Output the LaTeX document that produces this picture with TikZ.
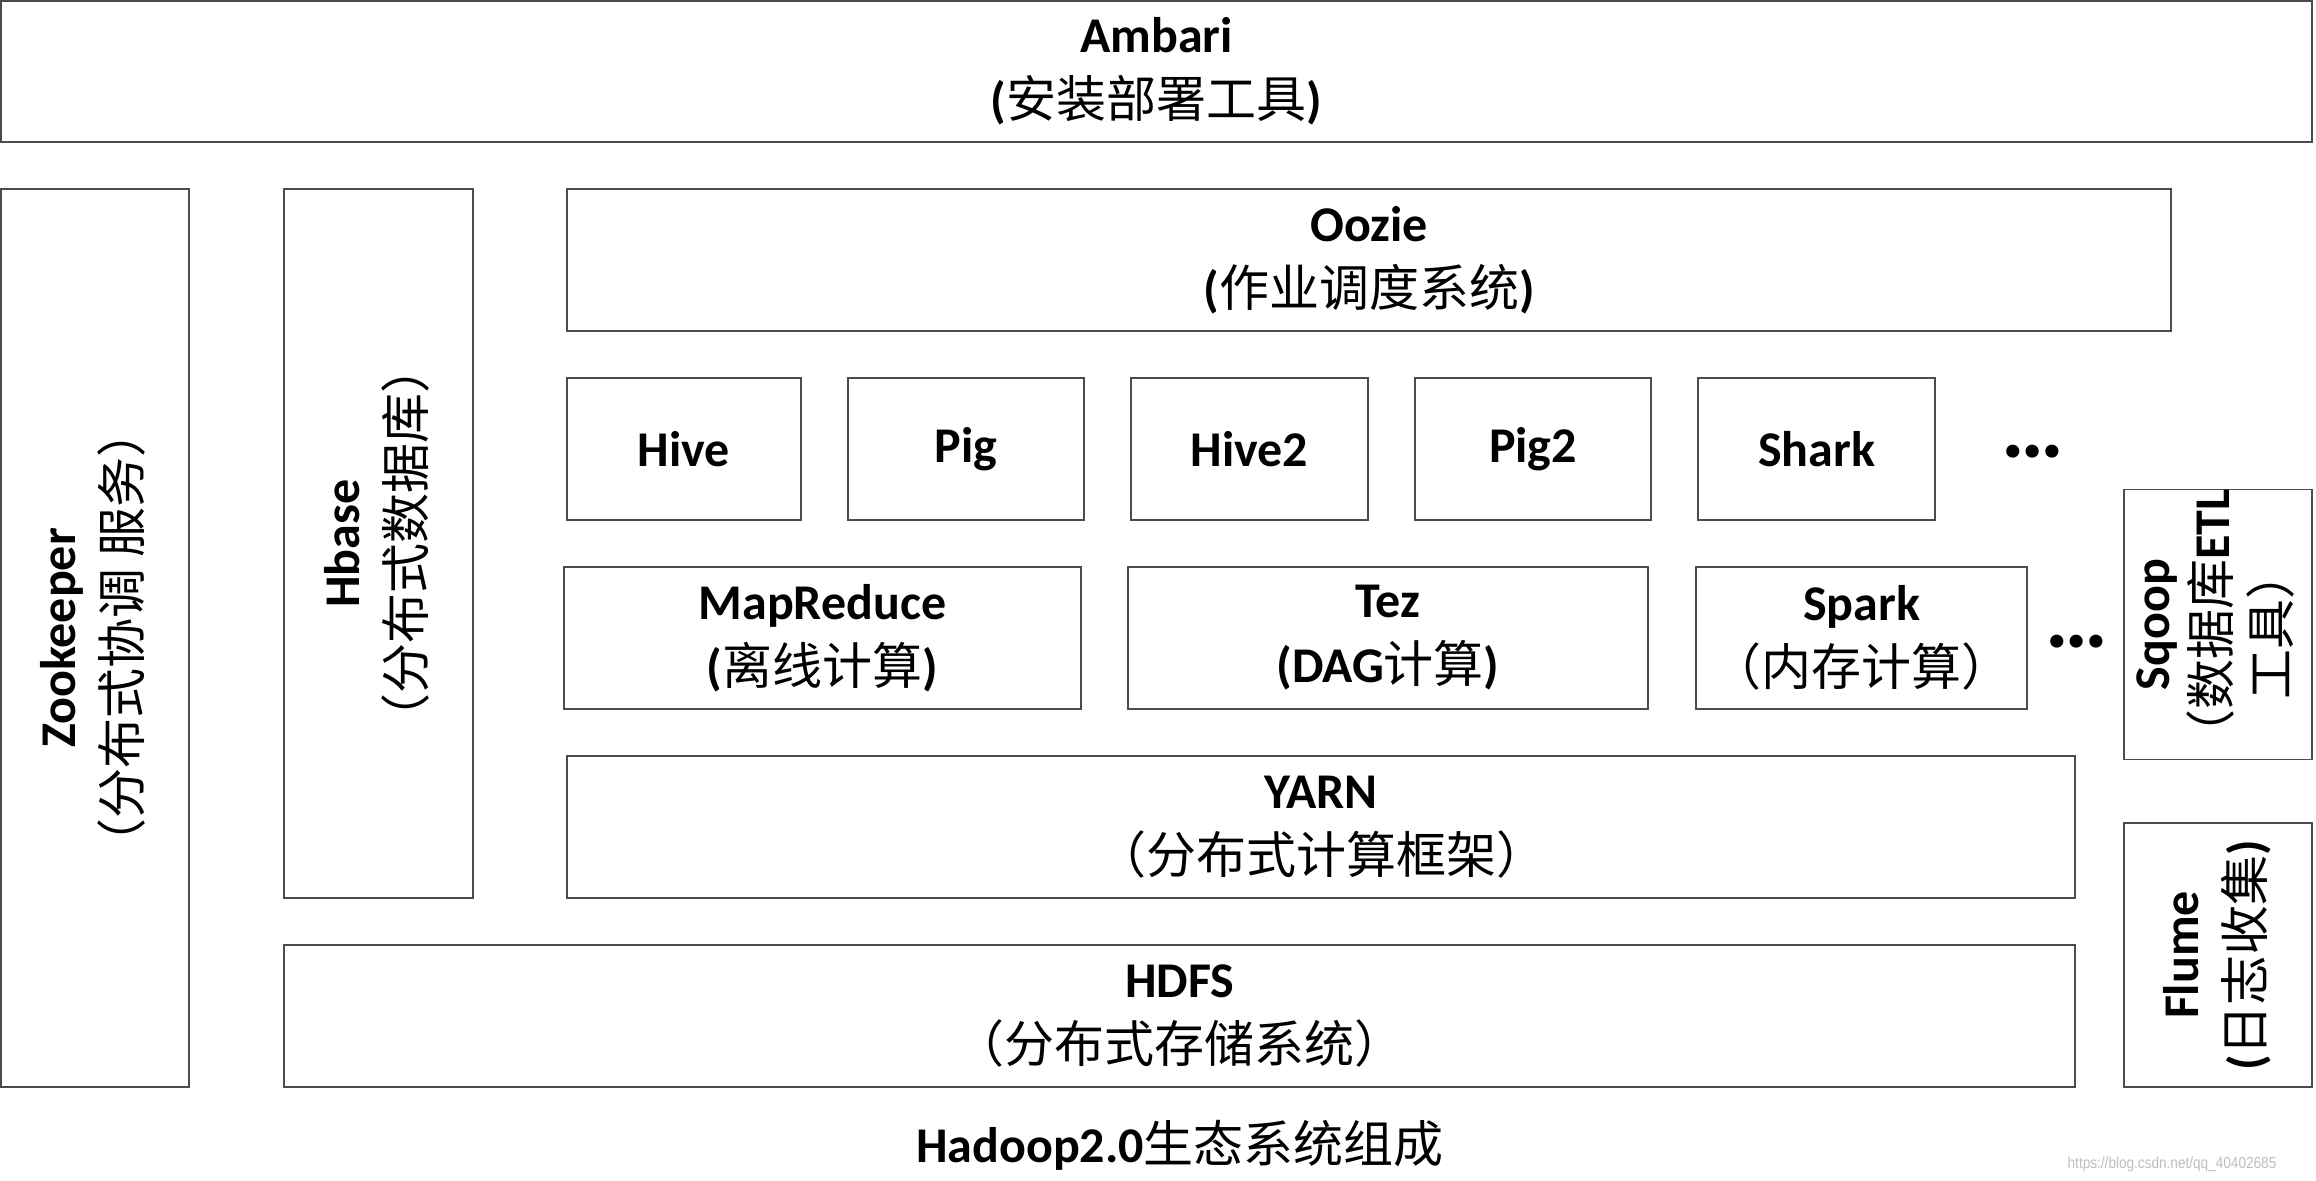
\documentclass[tikz,border=0pt]{standalone}
\usepackage{fontspec}
\setmainfont{Carlito}
\newfontfamily\cjk{Noto Sans CJK SC}
\newfontfamily\wmfont{Liberation Sans}
\newcommand\zh[1]{{\cjk\mdseries #1}}
\tikzset{
  box/.style={draw=black!70, line width=0.6pt, inner sep=0pt, align=center,
    font=\fontsize{25}{32.5}\selectfont\bfseries},
  dotstext/.style={inner sep=0pt, font=\fontsize{44}{44}\selectfont\bfseries},
  plain/.style={inner sep=0pt, align=center, font=\fontsize{25}{32.5}\selectfont\bfseries}
}
\begin{document}
\begin{tikzpicture}[x=0.5pt,y=-0.5pt]
\useasboundingbox (0,0) rectangle (2316,1180);
\fill[white] (0,0) rectangle (2316,1180);
\node[box, minimum width=1155.5pt, minimum height=70.5pt] (ambari) at (1156.5,71.5) {Ambari\\(\zh{安装部署工具})};
\node[box, minimum width=94pt, minimum height=449pt] (zoo) at (95,638) {\rotatebox{90}{\begin{tabular}{@{}c@{}}Zookeeper\\\zh{（分布式协调 服务）}\end{tabular}}};
\node[box, minimum width=94.5pt, minimum height=354.5pt] (hbase) at (378.5,543.5) {\rotatebox{90}{\begin{tabular}{@{}c@{}}Hbase\\\zh{（分布式数据库）}\end{tabular}}};
\node[box, minimum width=895.5pt, minimum height=71pt] (hdfs) at (1179.5,1016) {HDFS\\\zh{（分布式存储系统）}};
\node[box, minimum width=802pt, minimum height=71pt] (oozie) at (1369,260) {Oozie\\(\zh{作业调度系统})};
\node[box, minimum width=117pt, minimum height=71pt] (hive) at (684,449) {Hive};
\node[box, minimum width=118pt, minimum height=71pt] (pig) at (966,449) {Pig};
\node[box, minimum width=118.5pt, minimum height=71pt] (hive2) at (1249.5,449) {Hive2};
\node[box, minimum width=118pt, minimum height=71pt] (pig2) at (1533,449) {Pig2};
\node[box, minimum width=118.5pt, minimum height=71pt] (shark) at (1816.5,449) {Shark};
\node[dotstext] (dots1) at (2033,452) {…};
\node[box, minimum width=258.5pt, minimum height=71pt] (mr) at (822.5,638) {MapReduce\\(\zh{离线计算})};
\node[box, minimum width=260pt, minimum height=71pt] (tez) at (1388,638) {Tez\\(DAG\zh{计算})};
\node[box, minimum width=165.5pt, minimum height=71pt] (spark) at (1861.5,638) {Spark\\\zh{（内存计算）}};
\node[dotstext] (dots2) at (2077,642) {…};
\node[box, minimum width=754pt, minimum height=71pt] (yarn) at (1321,827) {YARN\\\zh{（分布式计算框架）}};
\node[box, minimum width=94pt, minimum height=131.5pt] (sqoop) at (2218,624.5) {\rotatebox{90}{\fontsize{25}{28.5}\selectfont\begin{tabular}{@{}c@{}}Sqoop\\\zh{（数据库}ETL\\\zh{工具）}\end{tabular}}};
\node[box, minimum width=94pt, minimum height=132pt] (flume) at (2218,955) {\rotatebox{90}{\begin{tabular}{@{}c@{}}Flume\\(\zh{日志收集})\end{tabular}}};
\node[plain] (title) at (1180,1145) {Hadoop2.0\zh{生态系统组成}};
\node[inner sep=0pt, text=black!25, font=\fontsize{8}{9}\selectfont\wmfont] (wm) at (2172,1164) {\scalebox{0.85}[1]{https://blog.csdn.net/qq\_40402685}};
\end{tikzpicture}
\end{document}
